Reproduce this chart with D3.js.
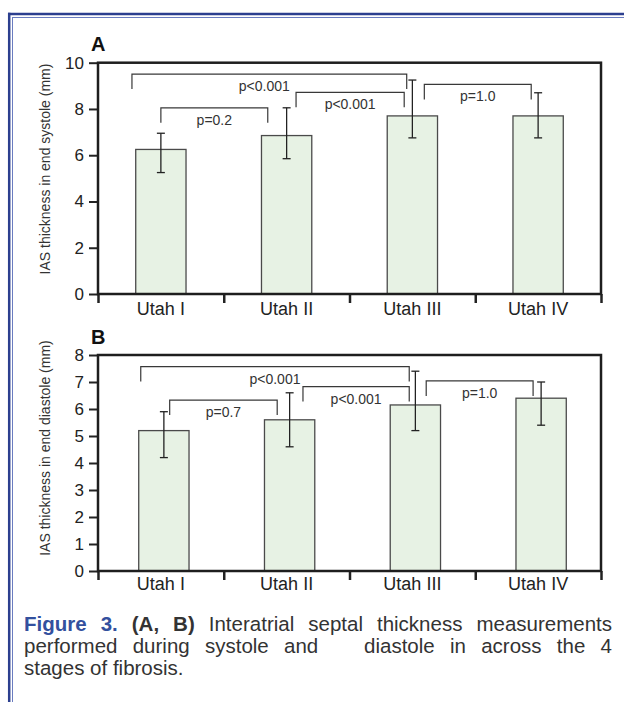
<!DOCTYPE html>
<html>
<head>
<meta charset="utf-8">
<script src="https://cdn.jsdelivr.net/npm/d3@7/dist/d3.min.js"></script>
<style>
  body { margin: 0; background: #fff; }
  svg { display: block; font-family: 'Liberation Sans', Arial, sans-serif; }
</style>
</head>
<body>
<svg id="fig" width="624" height="702"></svg>
<script>
var categories = ['Utah I', 'Utah II', 'Utah III', 'Utah IV'];

// A - end systole (mm)
var systoleMean = [6.25, 6.85, 7.7, 7.7];
var systoleLow = [5.25, 5.85, 6.75, 6.75];
var systoleHigh = [6.95, 8.05, 9.25, 8.7];
var systoleTicks = [0, 2, 4, 6, 8, 10];
// brackets: ends in category units, height in mm
var systolePairs = [[-0.23, 1.955], [0, 0.85], [1.075, 1.935], [2.095, 2.945]];
var systoleBracket = [9.51, 8.05, 8.72, 9.06];
var systoleP = ['p<0.001', 'p=0.2', 'p<0.001', 'p=1.0'];

// B - end diastole (mm)
var diastoleMean = [5.2, 5.6, 6.15, 6.4];
var diastoleLow = [4.2, 4.6, 5.2, 5.4];
var diastoleHigh = [5.9, 6.6, 7.4, 7.0];
var diastoleTicks = [0, 1, 2, 3, 4, 5, 6, 7, 8];
var diastolePairs = [[-0.16, 1.975], [0.07, 0.925], [1.13, 1.975], [2.11, 2.96]];
var diastoleBracket = [7.57, 6.33, 6.83, 7.04];
var diastoleP = ['p<0.001', 'p=0.7', 'p<0.001', 'p=1.0'];

var svg = d3.select('#fig');
var left = 98, right = 601;
var font = "'Liberation Sans', Arial, sans-serif";

// page frame, top and left only
svg.append('line').attr('x1', 8).attr('x2', 624).attr('y1', 14).attr('y2', 14)
  .attr('stroke', '#2c3f8f').attr('stroke-width', 2.5);
svg.append('line').attr('x1', 12.5).attr('x2', 624).attr('y1', 17.5).attr('y2', 17.5)
  .attr('stroke', '#6a7cc0').attr('stroke-width', 1);
svg.append('line').attr('x1', 9.2).attr('x2', 9.2).attr('y1', 12.8).attr('y2', 702)
  .attr('stroke', '#2c3f8f').attr('stroke-width', 2.5);
svg.append('line').attr('x1', 12.5).attr('x2', 12.5).attr('y1', 17).attr('y2', 702)
  .attr('stroke', '#6a7cc0').attr('stroke-width', 1);

var drawPanel = function(p) {
  var g = svg.append('g');
  var x = d3.scaleBand().domain(categories).range([left, right]);
  var bw = x.bandwidth();
  var pos = d3.scaleLinear().domain([0, 3]).range([x(categories[0]) + bw / 2, x(categories[3]) + bw / 2]);
  var edges = d3.scaleLinear().domain([0, 4]).range([left, right]);
  var y = d3.scaleLinear().domain([0, p.max]).range([p.bottom, p.top]);
  var barW = bw * 0.4;

  g.selectAll('rect.bar').data(p.mean).enter().append('rect')
    .attr('class', 'bar')
    .attr('x', function(d, i) { return pos(i) - barW / 2 + p.shift; })
    .attr('y', function(d) { return y(d); })
    .attr('width', barW)
    .attr('height', function(d) { return y(0) - y(d); })
    .attr('fill', '#e7f2e4').attr('stroke', '#4a4a4a').attr('stroke-width', 1.3);

  // error bars
  var err = g.selectAll('g.err').data(p.mean).enter().append('g').attr('class', 'err')
    .attr('stroke', '#222').attr('stroke-width', 1.3);
  err.append('line')
    .attr('x1', function(d, i) { return pos(i) + p.shift; })
    .attr('x2', function(d, i) { return pos(i) + p.shift; })
    .attr('y1', function(d, i) { return y(p.low[i]); })
    .attr('y2', function(d, i) { return y(p.high[i]); });
  [p.low, p.high].forEach(function(arr) {
    err.append('line')
      .attr('x1', function(d, i) { return pos(i) + p.shift - 4; })
      .attr('x2', function(d, i) { return pos(i) + p.shift + 4; })
      .attr('y1', function(d, i) { return y(arr[i]); })
      .attr('y2', function(d, i) { return y(arr[i]); });
  });

  // significance brackets
  var br = g.selectAll('g.bracket').data(p.pairs).enter().append('g').attr('class', 'bracket');
  br.append('path')
    .attr('d', function(d, i) {
      var yy = y(p.bracket[i]);
      return 'M' + pos(d[0]) + ',' + (yy + 15) + 'V' + yy + 'H' + pos(d[1]) + 'V' + (yy + 15);
    })
    .attr('fill', 'none').attr('stroke', '#383838').attr('stroke-width', 1.2);
  br.append('text')
    .attr('x', function(d, i) { return (pos(d[0]) + pos(d[1])) / 2 + (i === 0 ? p.firstNudge : 0); })
    .attr('y', function(d, i) { return y(p.bracket[i]) + 17; })
    .attr('text-anchor', 'middle')
    .attr('font-size', 14).attr('fill', '#333')
    .text(function(d, i) { return p.labels[i]; });

  // y axis
  var ya = g.append('g').attr('transform', 'translate(' + left + ',0)')
    .call(d3.axisLeft(y).tickValues(p.ticks).tickSize(9).tickPadding(5));
  ya.select('.domain').remove();
  ya.selectAll('line').attr('stroke', '#222').attr('stroke-width', 2);
  ya.selectAll('text').attr('font-size', 17).attr('fill', '#222').attr('font-family', font);

  // x axis: boundary ticks, then names at band centres
  var xa = g.append('g').attr('transform', 'translate(0,' + p.bottom + ')')
    .call(d3.axisBottom(edges).ticks(4).tickSize(9).tickFormat(''));
  xa.select('.domain').remove();
  xa.selectAll('line').attr('stroke', '#222').attr('stroke-width', 2.5);
  var xl = g.append('g').attr('transform', 'translate(0,' + p.bottom + ')')
    .call(d3.axisBottom(x).tickSize(0).tickPadding(p.labelPad));
  xl.select('.domain').remove();
  xl.selectAll('text').attr('font-size', 18).attr('fill', '#222').attr('font-family', font);

  // plot frame
  g.append('rect').attr('x', left).attr('y', p.top)
    .attr('width', right - left).attr('height', p.bottom - p.top)
    .attr('fill', 'none').attr('stroke', '#1e1e1e').attr('stroke-width', 2.5);

  g.append('text').attr('x', 91).attr('y', p.top - 11.5)
    .attr('font-size', 20).attr('font-weight', 'bold').attr('fill', '#111')
    .text(p.letter);

  g.append('text')
    .attr('transform', 'translate(50,' + p.titleY + ') rotate(-90)')
    .attr('text-anchor', 'middle').attr('font-size', 14).attr('fill', '#333')
    .text(p.title);
};

drawPanel({
  letter: 'A', title: 'IAS thickness in end systole (mm)', titleY: 169,
  top: 62.7, bottom: 294, max: 10, ticks: systoleTicks, shift: 0, labelPad: 8, firstNudge: -5,
  mean: systoleMean, low: systoleLow, high: systoleHigh,
  pairs: systolePairs, bracket: systoleBracket, labels: systoleP
});
drawPanel({
  letter: 'B', title: 'IAS thickness in end diastole (mm)', titleY: 448,
  top: 355, bottom: 571, max: 8, ticks: diastoleTicks, shift: 3, labelPad: 6, firstNudge: 0,
  mean: diastoleMean, low: diastoleLow, high: diastoleHigh,
  pairs: diastolePairs, bracket: diastoleBracket, labels: diastoleP
});

// caption, justified lines
var capLines = [
  [['Figure 3.', 'bold', '#33509e'], [' (A, B)', 'bold', '#333'], [' Interatrial septal thickness measurements', 'normal', '#333']],
  [['performed during systole and   diastole in across the 4', 'normal', '#333']],
  [['stages of fibrosis.', 'normal', '#333']]
];
var capLeft = 24, capRight = 612;
capLines.forEach(function(line, li) {
  var t = svg.append('text').attr('x', capLeft).attr('y', 631 + li * 22)
    .attr('font-size', 20.5).attr('xml:space', 'preserve').style('white-space', 'pre');
  line.forEach(function(part) {
    t.append('tspan').attr('font-weight', part[1]).attr('fill', part[2]).text(part[0]);
  });
  if (li < 2) {
    var txt = line.map(function(part) { return part[0]; }).join('');
    var spaces = txt.split(' ').length - 1;
    var w = t.node().getComputedTextLength();
    t.attr('word-spacing', (capRight - capLeft - w) / spaces);
  }
});
</script>
</body>
</html>
